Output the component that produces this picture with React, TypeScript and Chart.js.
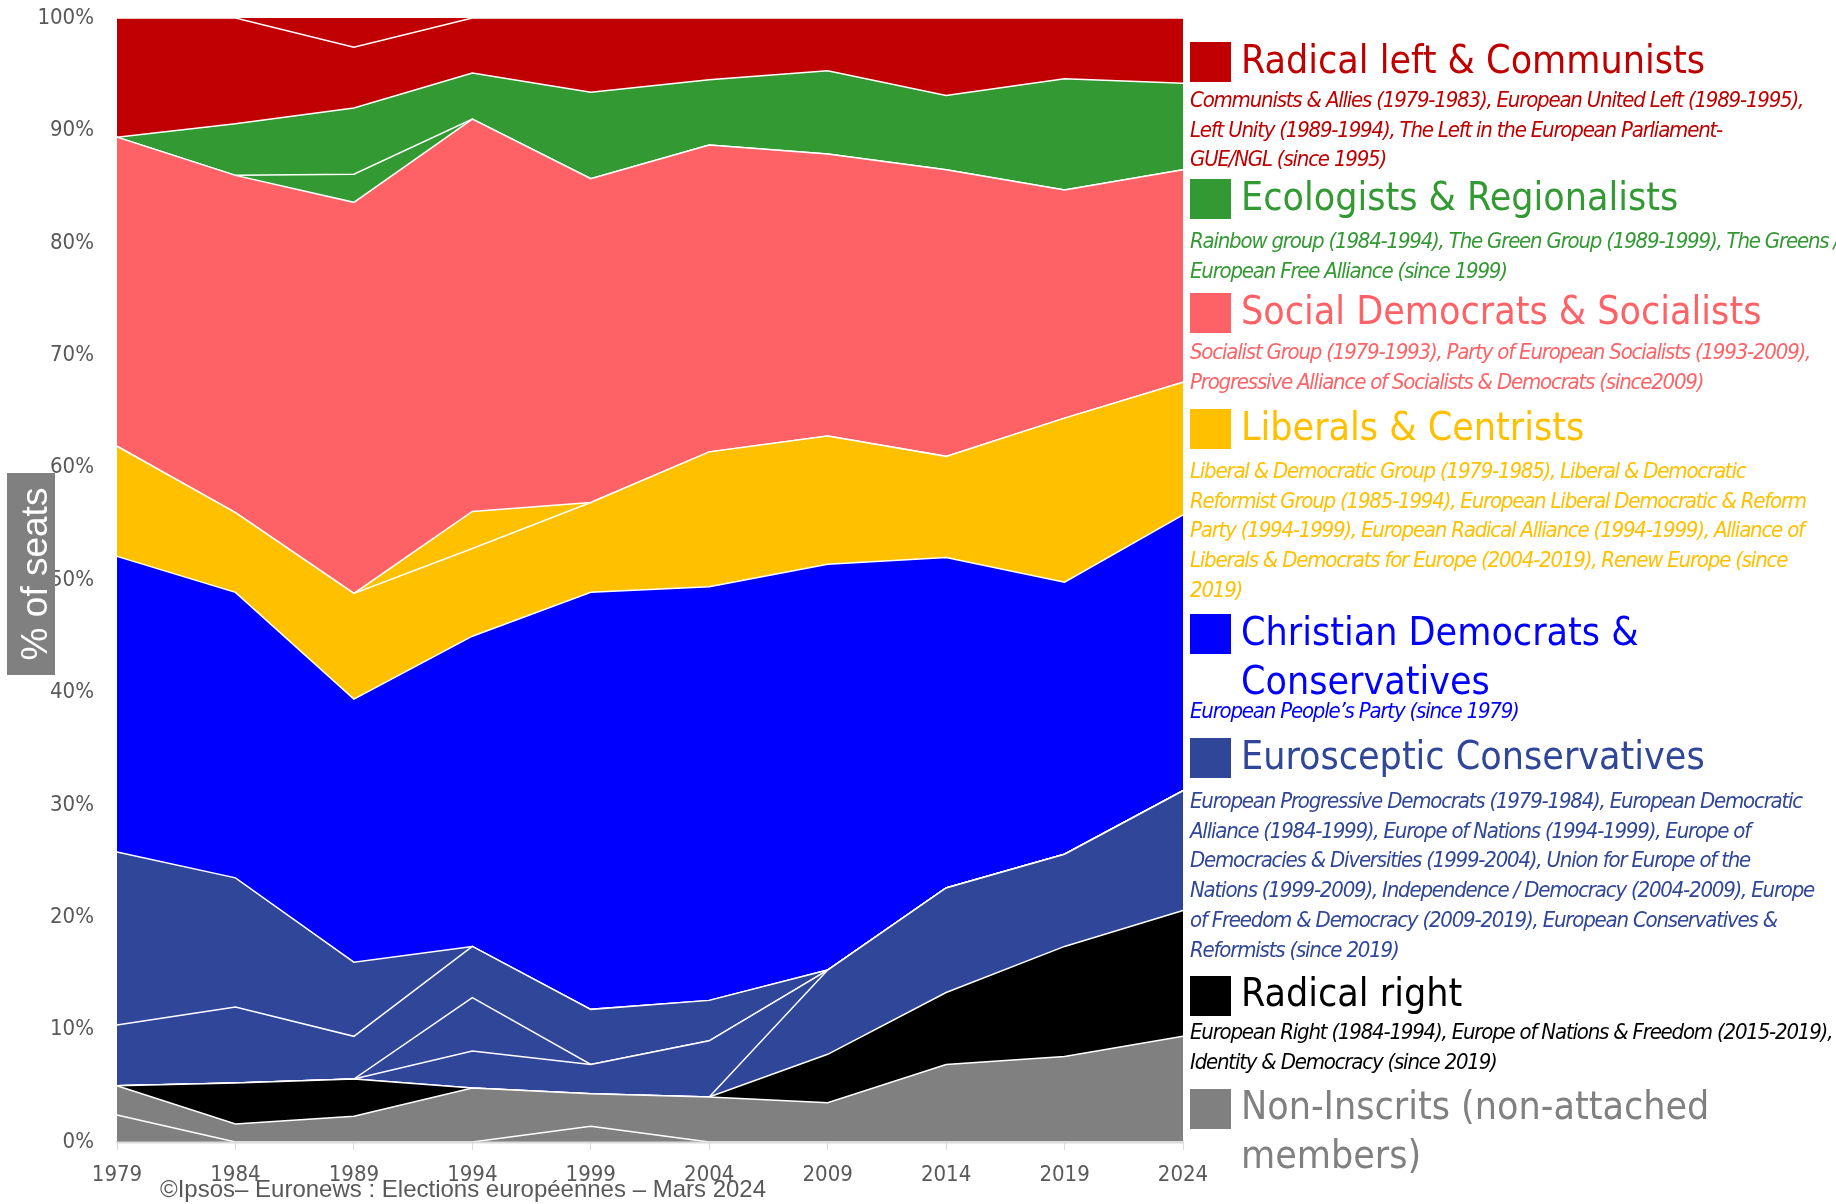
import React, { useEffect, useRef } from "react";
import { Chart, registerables } from "chart.js";

Chart.register(...registerables);

// ---------- DATA (percent of seats, bottom of stack to top) ----------
const years = ["1979", "1984", "1989", "1994", "1999", "2004", "2009", "2014", "2019", "2024"];
const yTickValues = [0, 10, 20, 30, 40, 50, 60, 70, 80, 90, 100];

const nonInscritsLower = [2.4, 0, 0, 0, 1.4, 0, 0, 0, 0, 0];
const nonInscritsUpper = [2.6, 1.6, 2.3, 4.8, 2.9, 4.0, 3.5, 6.9, 7.6, 9.4];
const radicalRight = [0, 3.65, 3.3, 0, 0, 0, 4.3, 6.4, 9.8, 11.2];
const euroConsEcr = [0, 0, 0, 0, 0, 0, 7.5, 9.3, 8.2, 10.65];
const euroConsNations = [0, 0, 0, 3.3, 2.6, 5.0, 0, 0, 0, 0];
const euroConsEdn = [0, 0, 0, 4.75, 0, 0, 0, 0, 0, 0];
const euroConsLower = [5.4, 6.75, 3.8, 4.55, 4.9, 3.6, 0, 0, 0, 0];
const euroConsUpper = [15.4, 11.5, 6.6, 0, 0, 0, 0, 0, 0, 0];
const christianDemocrats = [26.3, 25.4, 23.4, 27.6, 37.1, 36.8, 36.1, 29.4, 24.2, 24.55];
const liberalsMain = [9.8, 7.1, 9.4, 7.8, 8.0, 12.0, 11.4, 9.0, 14.6, 11.8];
const liberalsRadicalAlliance = [0, 0, 0, 3.3, 0, 0, 0, 0, 0, 0];
const socialDemocrats = [27.5, 30.0, 34.8, 34.9, 28.8, 27.3, 25.1, 25.5, 20.3, 18.9];
const ecologistsRainbow = [0, 0, 2.5, 0, 0, 0, 0, 0, 0, 0];
const ecologistsMain = [0, 4.6, 5.9, 4.1, 7.7, 5.8, 7.4, 6.6, 9.9, 7.7];
const radicalLeftMain = [10.6, 9.4, 5.4, 4.9, 6.6, 5.5, 4.7, 6.9, 5.4, 5.8];
const radicalLeftUnity = [0, 0, 2.6, 0, 0, 0, 0, 0, 0, 0];

// ---------- LEGEND TEXT ----------
const legendHeadings = [
  ["Radical left & Communists"],
  ["Ecologists & Regionalists"],
  ["Social Democrats & Socialists"],
  ["Liberals & Centrists"],
  ["Christian Democrats &", "Conservatives"],
  ["Eurosceptic Conservatives"],
  ["Radical right"],
  ["Non-Inscrits (non-attached", "members)"],
];
const legendDescriptions = [
  [
    "Communists & Allies (1979-1983), European United Left (1989-1995),",
    "Left Unity (1989-1994), The Left in the European Parliament-",
    "GUE/NGL (since 1995)",
  ],
  [
    "Rainbow group (1984-1994), The Green Group (1989-1999), The Greens /",
    "European Free Alliance (since 1999)",
  ],
  [
    "Socialist Group (1979-1993), Party of European Socialists (1993-2009),",
    "Progressive Alliance of Socialists & Democrats (since2009)",
  ],
  [
    "Liberal & Democratic Group (1979-1985), Liberal & Democratic",
    "Reformist Group (1985-1994), European Liberal Democratic & Reform",
    "Party (1994-1999), European Radical Alliance (1994-1999), Alliance of",
    "Liberals & Democrats for Europe (2004-2019), Renew Europe (since",
    "2019)",
  ],
  ["European People\u2019s Party (since 1979)"],
  [
    "European Progressive Democrats (1979-1984), European Democratic",
    "Alliance (1984-1999), Europe of Nations (1994-1999), Europe of",
    "Democracies & Diversities (1999-2004), Union for Europe of the",
    "Nations (1999-2009), Independence / Democracy (2004-2009), Europe",
    "of Freedom & Democracy (2009-2019), European Conservatives &",
    "Reformists (since 2019)",
  ],
  [
    "European Right (1984-1994), Europe of Nations & Freedom (2015-2019),",
    "Identity & Democracy (since 2019)",
  ],
  [],
];
const footerText = "\u00A9Ipsos\u2013 Euronews : Elections europ\u00E9ennes \u2013 Mars 2024";
const yAxisTitle = "% of seats";

// ---------- STYLE ----------
const C_RED = "#C00000";
const C_GREEN = "#339933";
const C_PINK = "#FF6266";
const C_YELLOW = "#FFC000";
const C_BLUE = "#0000FF";
const C_EURO = "#2F4699";
const C_BLACK = "#000000";
const C_GRAY = "#808080";
const AXIS_GRAY = "#d9d9d9";
const legendColors = [C_RED, C_GREEN, C_PINK, C_YELLOW, C_BLUE, C_EURO, C_BLACK, C_GRAY];
const squareTops = [42.3, 179, 293.3, 409.3, 614, 738.3, 975.7, 1088.7];
const descBaselines = [107.3, 248.3, 359.3, 478.3, 718.3, 808.3, 1040, 0];

const DIN = '"DejaVu Sans Condensed", "DejaVu Sans", sans-serif';
const TICK_COLOR = "#595959";
const TICK_FS = 22;

const HEAD_FS = 39;
const HEAD_LH = 49;
const DESC_FS = 22;
const DESC_LH = 29.8;
const baseOff = (fs: number, lh: number, asc = 0.928, dsc = 0.236) =>
  (lh - (asc + dsc) * fs) / 2 + asc * fs;

// Redraw the x-axis base line over the areas, and the grey y-axis title box.
const overlayPlugin = {
  id: "overlay",
  afterDatasetsDraw(chart: any) {
    const c = chart.ctx as CanvasRenderingContext2D;
    const a = chart.chartArea;
    c.save();
    c.strokeStyle = AXIS_GRAY;
    c.lineWidth = 2;
    c.beginPath();
    c.moveTo(a.left, a.bottom + 0.5);
    c.lineTo(a.right, a.bottom + 0.5);
    c.stroke();
    c.restore();
  },
  afterDraw(chart: any) {
    const c = chart.ctx as CanvasRenderingContext2D;
    c.save();
    c.fillStyle = C_GRAY;
    c.fillRect(7, 473, 48, 202);
    c.translate(47, 574);
    c.rotate(-Math.PI / 2);
    c.fillStyle = "#ffffff";
    c.font = '37px "Liberation Sans", Arial, sans-serif';
    c.textAlign = "center";
    c.textBaseline = "alphabetic";
    c.fillText(yAxisTitle, 0, 0);
    c.restore();
  },
};

export default function App() {
  const canvasRef = useRef<HTMLCanvasElement | null>(null);

  useEffect(() => {
    if (!canvasRef.current) return;
    const WHITE = "#ffffff";
    const TRANSPARENT = "rgba(0,0,0,0)";
    const mk = (label: string, data: number[], color: string, extra: any = {}) => ({
      label,
      data,
      backgroundColor: color,
      borderColor: WHITE,
      borderWidth: 1.5,
      fill: "-1",
      pointRadius: 0,
      pointHoverRadius: 0,
      tension: 0,
      ...extra,
    });

    const datasets = [
      mk("Non-Inscrits A", nonInscritsLower, C_GRAY, { fill: "origin" }),
      mk("Non-Inscrits B", nonInscritsUpper, C_GRAY),
      mk("Radical right", radicalRight, C_BLACK),
      mk("ECR", euroConsEcr, C_EURO),
      mk("Europe of Nations", euroConsNations, C_EURO),
      mk("EDN", euroConsEdn, C_EURO),
      mk("EDA", euroConsLower, C_EURO),
      mk("EPD", euroConsUpper, C_EURO),
      mk("Christian Democrats", christianDemocrats, C_BLUE),
      mk("Liberals", liberalsMain, C_YELLOW),
      mk("European Radical Alliance", liberalsRadicalAlliance, C_YELLOW),
      mk("Social Democrats", socialDemocrats, C_PINK),
      mk("Rainbow", ecologistsRainbow, C_GREEN),
      mk("Greens", ecologistsMain, C_GREEN),
      mk("Radical left", radicalLeftMain, C_RED),
      mk("Left Unity", radicalLeftUnity, C_RED, { borderColor: TRANSPARENT }),
    ];

    const chart = new Chart(canvasRef.current, {
      type: "line",
      data: { labels: years, datasets },
      options: {
        animation: false,
        responsive: false,
        events: [],
        layout: { padding: { left: 0, right: 653, top: 18, bottom: 0 } },
        plugins: { legend: { display: false }, tooltip: { enabled: false } },
        scales: {
          x: {
            grid: {
              color: AXIS_GRAY,
              drawOnChartArea: false,
              tickLength: 8,
              tickColor: AXIS_GRAY,
            },
            border: { color: AXIS_GRAY, width: 2 },
            ticks: {
              color: TICK_COLOR,
              font: { family: DIN, size: TICK_FS },
              padding: 12,
              maxRotation: 0,
              autoSkip: false,
            },
            afterFit: (s: any) => {
              s.height = 62;
            },
          },
          y: {
            stacked: true,
            min: 0,
            max: 100,
            afterBuildTicks: (s: any) => {
              s.ticks = yTickValues.map((v) => ({ value: v }));
            },
            ticks: {
              color: TICK_COLOR,
              font: { family: DIN, size: TICK_FS },
              padding: 0,
              callback: (v: any) => `${v}%`,
            },
            grid: {
              drawTicks: true,
              tickLength: 23,
              tickColor: "rgba(0,0,0,0)",
              drawOnChartArea: false,
              color: AXIS_GRAY,
            },
            border: { color: AXIS_GRAY },
            afterFit: (s: any) => {
              s.width = 117;
            },
          },
        },
      } as any,
      plugins: [overlayPlugin],
    });
    return () => chart.destroy();
  }, []);

  const headOff = baseOff(HEAD_FS, HEAD_LH);
  const descOff = baseOff(DESC_FS, DESC_LH);

  return (
    <div
      style={{
        position: "absolute",
        left: 0,
        top: 0,
        width: 1836,
        height: 1204,
        overflow: "hidden",
        background: "#ffffff",
      }}
    >
      <canvas
        ref={canvasRef}
        width={1836}
        height={1204}
        style={{ position: "absolute", left: 0, top: 0, width: 1836, height: 1204 }}
      />
      {legendHeadings.map((head, i) => (
        <React.Fragment key={i}>
          <div
            style={{
              position: "absolute",
              left: 1190,
              top: squareTops[i],
              width: 41,
              height: 40,
              background: legendColors[i],
            }}
          />
          <div
            style={{
              position: "absolute",
              left: 1241,
              top: squareTops[i] + 30.5 - headOff,
              fontFamily: DIN,
              fontSize: HEAD_FS,
              lineHeight: `${HEAD_LH}px`,
              color: legendColors[i],
              whiteSpace: "nowrap",
            }}
          >
            {head.map((l, j) => (
              <div key={j}>{l}</div>
            ))}
          </div>
          {legendDescriptions[i].length > 0 && (
            <div
              style={{
                position: "absolute",
                left: 1190,
                top: descBaselines[i] - descOff,
                fontFamily: DIN,
                fontStyle: "italic",
                fontSize: DESC_FS,
                lineHeight: `${DESC_LH}px`,
                letterSpacing: "-1.2px",
                color: legendColors[i],
                whiteSpace: "nowrap",
              }}
            >
              {legendDescriptions[i].map((l, j) => (
                <div key={j}>{l}</div>
              ))}
            </div>
          )}
        </React.Fragment>
      ))}
      <div
        style={{
          position: "absolute",
          left: 160,
          top: 1174,
          fontFamily: '"Liberation Sans", Arial, sans-serif',
          fontSize: 24,
          lineHeight: "30px",
          color: TICK_COLOR,
          whiteSpace: "nowrap",
        }}
      >
        {footerText}
      </div>
    </div>
  );
}
